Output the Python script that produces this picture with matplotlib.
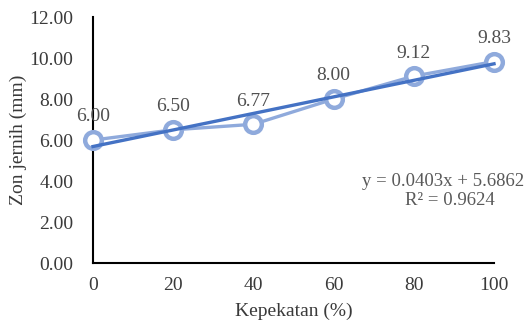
import numpy as np
import matplotlib
matplotlib.use("Agg")
import matplotlib.pyplot as plt

concentration = [0, 20, 40, 60, 80, 100]
clear_zone = [6.00, 6.50, 6.77, 8.00, 9.12, 9.83]
y_ticks = [0, 2, 4, 6, 8, 10, 12]

plt.rcParams['font.family'] = ['Liberation Serif', 'DejaVu Serif']

fig = plt.figure(figsize=(5.26, 3.22), dpi=100)
ax = fig.add_axes([0.1768, 0.183, 0.7624, 0.764])

light = '#8FAADC'
dark = '#4472C4'
text_col = '#3A3A3A'

ax.plot(concentration, clear_zone, color=light, lw=2.4, marker='o', ms=12,
        mfc='white', mec=light, mew=3.2, clip_on=False, zorder=3)

slope, intercept = np.polyfit(concentration, clear_zone, 1)
xs = np.array([concentration[0], concentration[-1]])
ax.plot(xs, slope * xs + intercept, color=dark, lw=2.4, zorder=4, clip_on=False)

for x, y in zip(concentration, clear_zone):
    ax.annotate(f'{y:.2f}', (x, y), xytext=(0, 10.5), textcoords='offset points',
                ha='center', va='bottom', fontsize=14, color='#505050')

r2 = np.corrcoef(concentration, clear_zone)[0, 1] ** 2
ax.text(1.075, 0.333, f'y = {slope:.4f}x + {intercept:.4f}', transform=ax.transAxes,
        ha='right', va='center', fontsize=13.5, color='#595959')
ax.text(0.89, 0.255, f'R² = {r2:.4f}', transform=ax.transAxes,
        ha='center', va='center', fontsize=13.5, color='#595959')

ax.set_xlim(0, 100)
ax.set_ylim(0, 12)
ax.set_xticks(concentration)
ax.set_yticks(y_ticks)
ax.set_yticklabels([f'{v:.2f}' for v in y_ticks])
ax.tick_params(length=0, labelsize=14, colors=text_col)
ax.tick_params(axis='y', pad=14)
ax.tick_params(axis='x', pad=10)
for s in ['top', 'right']:
    ax.spines[s].set_visible(False)
for s in ['left', 'bottom']:
    ax.spines[s].set_linewidth(1.5)
    ax.spines[s].set_color('black')

ax.set_xlabel('Kepekatan (%)', fontsize=14, color=text_col, labelpad=6)
ax.set_ylabel('Zon jernih (mm)', fontsize=14, color=text_col, labelpad=2)

fig.savefig('out.png', dpi=100)
